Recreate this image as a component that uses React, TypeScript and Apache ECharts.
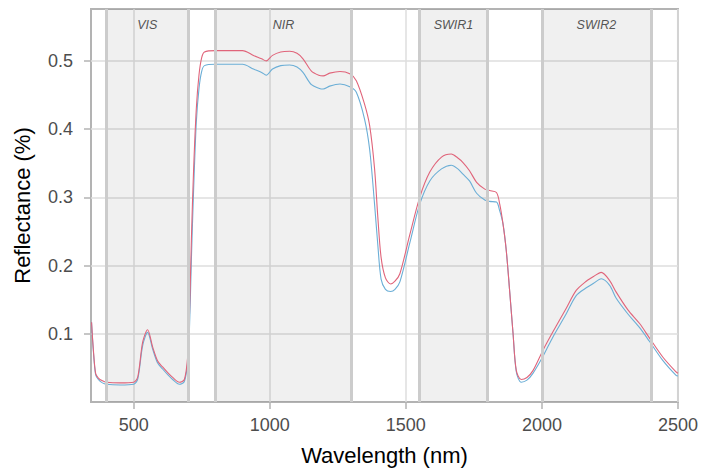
import React, { useEffect, useRef } from "react";
import * as echarts from "echarts";

const wavelength = [345, 352, 360, 370, 385, 400, 450, 500, 515, 533, 551, 570, 588, 607, 625, 643, 668, 686, 698, 705, 712, 720, 730, 740, 750, 760, 800, 850, 900, 940, 970, 987, 1010, 1040, 1073, 1100, 1122, 1153, 1180, 1196, 1220, 1258, 1294, 1318, 1348, 1367, 1385, 1397, 1409, 1425, 1444, 1460, 1478, 1515, 1551, 1588, 1631, 1667, 1690, 1710, 1734, 1760, 1790, 1808, 1833, 1845, 1857, 1869, 1882, 1894, 1906, 1924, 1945, 1967, 2004, 2040, 2089, 2126, 2163, 2190, 2218, 2249, 2273, 2316, 2359, 2395, 2444, 2493, 2500];

const reflectanceRed = [0.117, 0.075, 0.042, 0.035, 0.031, 0.029, 0.028, 0.029, 0.037, 0.088, 0.106, 0.08, 0.06, 0.051, 0.043, 0.036, 0.029, 0.033, 0.065, 0.13, 0.24, 0.34, 0.43, 0.48, 0.505, 0.513, 0.515, 0.515, 0.515, 0.508, 0.503, 0.5, 0.508, 0.513, 0.514, 0.511, 0.503, 0.485, 0.479, 0.478, 0.482, 0.4845, 0.481, 0.471, 0.437, 0.405, 0.342, 0.271, 0.212, 0.182, 0.173, 0.177, 0.188, 0.246, 0.3, 0.337, 0.359, 0.3635, 0.358, 0.351, 0.339, 0.322, 0.312, 0.31, 0.307, 0.29, 0.261, 0.222, 0.16, 0.1, 0.046, 0.033, 0.036, 0.046, 0.076, 0.1025, 0.137, 0.1635, 0.177, 0.184, 0.19, 0.178, 0.161, 0.135, 0.115, 0.094, 0.066, 0.044, 0.042];

const reflectanceBlue = [0.117, 0.073, 0.04, 0.033, 0.028, 0.026, 0.025, 0.026, 0.034, 0.083, 0.102, 0.077, 0.057, 0.048, 0.04, 0.033, 0.026, 0.03, 0.058, 0.11, 0.21, 0.31, 0.41, 0.46, 0.485, 0.493, 0.495, 0.495, 0.495, 0.488, 0.483, 0.479, 0.488, 0.493, 0.494, 0.491, 0.483, 0.465, 0.46, 0.4587, 0.463, 0.466, 0.462, 0.454, 0.415, 0.37, 0.29, 0.23, 0.18, 0.165, 0.162, 0.165, 0.176, 0.234, 0.29, 0.324, 0.3416, 0.347, 0.342, 0.334, 0.324, 0.306, 0.296, 0.294, 0.293, 0.28, 0.261, 0.222, 0.16, 0.1, 0.044, 0.029, 0.032, 0.042, 0.067, 0.095, 0.129, 0.156, 0.1674, 0.174, 0.1806, 0.171, 0.152, 0.129, 0.109, 0.089, 0.061, 0.039, 0.038];

const bandNames = ["VIS", "NIR", "SWIR1", "SWIR2"];
const bandStart = [400, 800, 1550, 2000];
const bandEnd = [700, 1300, 1800, 2400];

const xTicks = [500, 1000, 1500, 2000, 2500];
const yTicks = [0.1, 0.2, 0.3, 0.4, 0.5];

const FONT = "Liberation Sans, Arial, Helvetica, sans-serif";

export default function App() {
  const ref = useRef<HTMLDivElement>(null);
  useEffect(() => {
    if (!ref.current) return;
    const chart = echarts.init(ref.current, null, { renderer: "svg" });
    const red = wavelength.map((w, i) => [w, reflectanceRed[i]]);
    const blue = wavelength.map((w, i) => [w, reflectanceBlue[i]]);
    const areas = bandNames.map((n, i) => [
      { xAxis: bandStart[i], name: n },
      { xAxis: bandEnd[i] },
    ]);
    const edges: any[] = [];
    bandStart.forEach((s, i) => {
      edges.push({ xAxis: s });
      edges.push({ xAxis: bandEnd[i] });
    });
    chart.setOption({
      animation: false,
      grid: {
        left: 91,
        top: 9,
        right: 23,
        bottom: 72,
        show: true,
        borderColor: "#b3b3b3",
        borderWidth: 2,
        backgroundColor: "transparent",
      },
      xAxis: {
        type: "value",
        min: 343,
        max: 2500,
        name: "Wavelength (nm)",
        nameLocation: "middle",
        nameGap: 42,
        nameTextStyle: { fontSize: 22, color: "#000", fontFamily: FONT },
        axisLine: { show: false },
        axisTick: {
          show: true,
          length: 7,
          customValues: xTicks,
          lineStyle: { color: "#b3b3b3", width: 1.5 },
        },
        axisLabel: {
          customValues: xTicks,
          formatter: (v: number) => String(v),
          margin: 14,
          fontSize: 18,
          color: "#4d4d4d",
          fontFamily: FONT,
        },
        splitLine: { show: true, lineStyle: { color: "#dedede", width: 1.5 } },
      },
      yAxis: {
        type: "value",
        min: 0,
        max: 0.576,
        name: "Reflectance (%)",
        nameLocation: "middle",
        nameGap: 58,
        nameTextStyle: { fontSize: 22, color: "#000", fontFamily: FONT },
        axisLine: { show: false },
        axisTick: {
          show: true,
          length: 7,
          customValues: yTicks,
          lineStyle: { color: "#b3b3b3", width: 1.5 },
        },
        axisLabel: {
          customValues: yTicks,
          margin: 18,
          fontSize: 18,
          color: "#4d4d4d",
          fontFamily: FONT,
        },
        splitLine: { show: true, lineStyle: { color: "#dedede", width: 1.5 } },
      },
      series: [
        {
          type: "line",
          data: [],
          z: 1,
          silent: true,
          markArea: {
            silent: true,
            itemStyle: { color: "rgba(0,0,0,0.06)" },
            label: {
              show: true,
              position: "insideTop",
              distance: 9,
              fontSize: 12.5,
              fontStyle: "italic",
              color: "#555555",
              fontFamily: FONT,
            },
            data: areas,
          },
          markLine: {
            silent: true,
            symbol: ["none", "none"],
            label: { show: false },
            lineStyle: { color: "#cccccc", width: 3, type: "solid" },
            data: edges,
          },
        },
        {
          type: "line",
          data: blue,
          z: 3,
          showSymbol: false,
          smooth: 0.3,
          lineStyle: { color: "#6baed6", width: 1.1 },
        },
        {
          type: "line",
          data: red,
          z: 4,
          showSymbol: false,
          smooth: 0.3,
          lineStyle: { color: "#e0647a", width: 1.1 },
        },
      ],
    });
    return () => chart.dispose();
  }, []);
  return (
    <div
      ref={ref}
      style={{ position: "absolute", left: 0, top: 0, width: 701, height: 474 }}
    />
  );
}
